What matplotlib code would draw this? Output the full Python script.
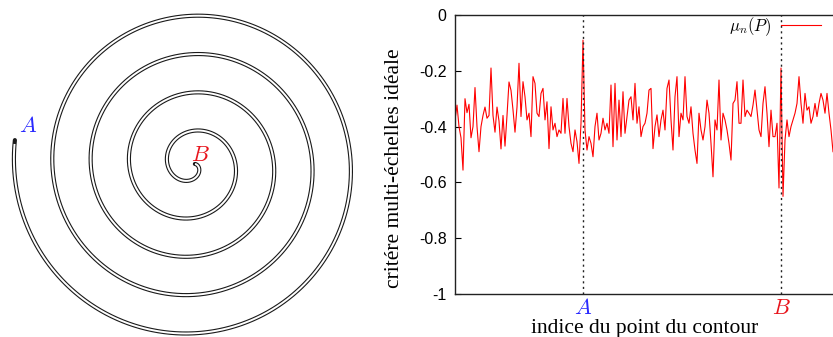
import matplotlib
matplotlib.use("Agg")
import matplotlib.pyplot as plt
import numpy as np

plt.rcParams['mathtext.fontset'] = 'cm'

# ---------------- data ----------------
crit_part1 = [-0.376, -0.323, -0.40, -0.44, -0.556, -0.30, -0.35, -0.32, -0.44, -0.40,
              -0.26, -0.40, -0.49, -0.40, -0.36, -0.33, -0.37, -0.36, -0.19, -0.36,
              -0.42, -0.33, -0.38, -0.48, -0.36, -0.47, -0.36, -0.24, -0.27, -0.34,
              -0.42, -0.33]
crit_part2 = [-0.173, -0.364, -0.239, -0.293, -0.376, -0.352, -0.436, -0.221, -0.245, -0.352,
              -0.364, -0.281, -0.263, -0.376, -0.311, -0.479, -0.329, -0.412, -0.388, -0.436,
              -0.412, -0.424, -0.299, -0.424, -0.299, -0.40, -0.46, -0.490, -0.412, -0.454,
              -0.532]
crit_part3 = [-0.388, -0.09, -0.412, -0.484, -0.436, -0.46, -0.508, -0.40, -0.352, -0.448,
              -0.424, -0.37, -0.412, -0.388, -0.424, -0.251, -0.472, -0.245, -0.448, -0.305,
              -0.436, -0.275, -0.424, -0.364, -0.305, -0.293, -0.376, -0.245, -0.388, -0.329,
              -0.436, -0.40]
crit_part4 = [-0.388, -0.352, -0.269, -0.263, -0.479, -0.40, -0.358, -0.436, -0.376, -0.341,
              -0.412, -0.263, -0.233, -0.376, -0.484, -0.293, -0.221, -0.436, -0.352, -0.376,
              -0.221, -0.364, -0.388, -0.329, -0.424, -0.484, -0.532, -0.352, -0.412, -0.448,
              -0.40, -0.305]
crit_part5 = [-0.352, -0.46, -0.58, -0.376, -0.412, -0.233, -0.448, -0.352, -0.376, -0.412,
              -0.46, -0.52, -0.317, -0.305, -0.239, -0.388, -0.388, -0.233, -0.364, -0.341,
              -0.352, -0.364, -0.323, -0.269, -0.341, -0.412, -0.436, -0.317, -0.257, -0.352,
              -0.472]
crit_part6 = [-0.341, -0.436, -0.436, -0.388, -0.62, -0.19, -0.65, -0.448, -0.376, -0.436,
              -0.40, -0.376, -0.352, -0.317, -0.221, -0.317, -0.388, -0.281, -0.341, -0.329,
              -0.388, -0.364, -0.317, -0.364, -0.317, -0.281, -0.305, -0.352, -0.281, -0.352,
              -0.412, -0.49]
criterion = crit_part1 + crit_part2 + crit_part3 + crit_part4 + crit_part5 + crit_part6
point_index = list(range(len(criterion)))

A_index = 64
B_index = 163
x_max = 190

y_ticks = [-1, -0.8, -0.6, -0.4, -0.2, 0]
y_tick_labels = ['-1', '-0.8', '-0.6', '-0.4', '-0.2', '0']
x_tick_labels = ['$A$', '$B$']

# spiral (Archimedean) geometry, in pixel units of the left panel
spiral_center = (192, 165)
spiral_r_start = 178.0        # radius at angle 180 deg
spiral_r_per_turn = 38.4
spiral_angle_start = 172.0    # degrees
spiral_angle_end = 1820.0     # degrees

blue = '#2a2aff'
red = '#e8141c'

# ---------------- figure ----------------
fig = plt.figure(figsize=(8.33, 3.37), dpi=100)

# left: spiral contour
axs = fig.add_axes([0, 0, 380 / 833, 1])
axs.set_xlim(0, 380)
axs.set_ylim(337, 0)
axs.axis('off')
phi = np.radians(np.linspace(spiral_angle_start, spiral_angle_end, 4000))
r = spiral_r_start - spiral_r_per_turn / (2 * np.pi) * (phi - np.pi)
sx = spiral_center[0] + r * np.cos(phi)
sy = spiral_center[1] - r * np.sin(phi)
axs.plot(sx, sy, color='#1a1a1a', lw=3.0, solid_capstyle='round')
axs.plot(sx[3:-3], sy[3:-3], color='white', lw=1.4, solid_capstyle='butt')
axs.text(19, 132, '$A$', color=blue, fontsize=16, ha='left', va='baseline')
axs.text(191, 161, '$B$', color=red, fontsize=16, ha='left', va='baseline')

# right: criterion plot
ax = fig.add_axes([455 / 833, 43 / 337, 380 / 833, 279 / 337])
ax.plot(point_index, criterion, color='#ff0000', lw=0.8, label=r'$\mu_n(P)$')
ax.axvline(A_index, color='#222222', lw=1.0, ls=(0, (1.5, 2.5)))
ax.axvline(B_index, color='#222222', lw=1.0, ls=(0, (1.5, 2.5)))
ax.set_xlim(0, x_max)
ax.set_ylim(-1, 0)
ax.set_yticks(y_ticks)
ax.set_yticklabels(y_tick_labels, fontfamily='Liberation Sans', fontsize=11.5)
ax.set_xticks([A_index, B_index])
ax.set_xticklabels(x_tick_labels, fontsize=16)
ax.get_xticklabels()[0].set_color(blue)
ax.get_xticklabels()[1].set_color(red)
ax.tick_params(axis='y', direction='in', length=4, width=0.8, pad=6)
ax.tick_params(axis='x', direction='in', length=0, pad=3)
for s in ax.spines.values():
    s.set_linewidth(1.0)
    s.set_color('#222222')
ax.spines['right'].set_visible(False)

ax.set_xlabel('indice du point du contour', fontfamily='Liberation Serif', fontsize=15.5,
              labelpad=0.5)
ax.set_ylabel('critére multi-échelles idéale', fontfamily='Liberation Serif', fontsize=15.5)
ax.yaxis.set_label_coords(-0.135, 0.45)

ax.legend(loc='upper right', bbox_to_anchor=(0.99, 1.035), frameon=False, markerfirst=False,
          fontsize=12, handlelength=2.4, handletextpad=0.6, borderaxespad=0.2)

fig.savefig('out.png', dpi=100)
